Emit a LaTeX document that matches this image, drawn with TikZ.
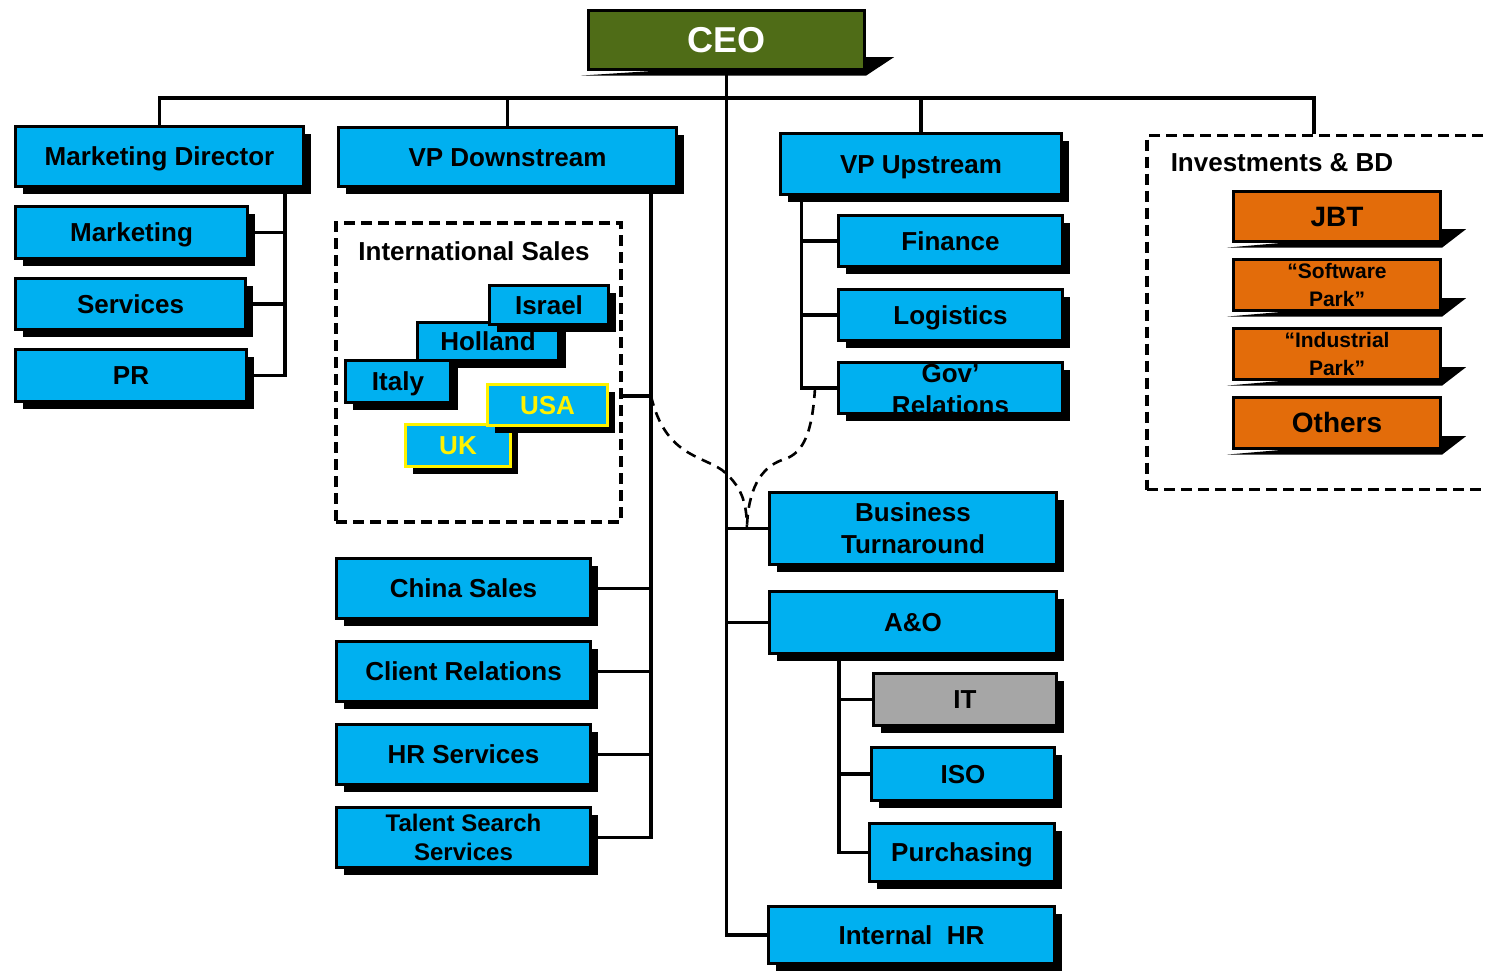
\documentclass[tikz,border=0pt]{standalone}
\usepackage{fontspec}
\setmainfont{Liberation Sans}
\usetikzlibrary{shadows}
\pgfdeclarelayer{back}
\pgfsetlayers{back,main}

\definecolor{unitblue}{RGB}{0,176,240}
\definecolor{ceogreen}{RGB}{79,108,23}
\definecolor{investorange}{RGB}{227,108,10}
\definecolor{itgrey}{RGB}{166,166,166}

\begin{document}
\begin{tikzpicture}
[x=1pt,y=-1pt,%
  box/.style={rectangle,draw=black,line width=3.2pt,inner sep=0pt,align=center,%
    font=\fontsize{26}{32}\selectfont\bfseries,text height=23.5pt,text depth=5.5pt},%
  twoline/.style={text height={},text depth={}},%
  unit/.style={box,fill=unitblue,%
    drop shadow={fill=black,opacity=1,shadow xshift=7.5pt,shadow yshift=-7.5pt}},%
  abroad/.style={unit,draw=yellow,text=yellow},%
  invest/.style={box,fill=investorange,font=\fontsize{28}{32}\selectfont\bfseries,%
    text height=25.3pt,text depth=5.9pt},%
  slant/.style={fill=black},%
  group/.style={draw,line width=3.5pt,dash pattern=on 11pt off 6pt,inner sep=0pt},%
  grouptitle/.style={font=\fontsize{26}{30}\selectfont\bfseries},%
  link/.style={draw,line width=3.6pt},%
  hint/.style={draw,line width=2.6pt,dash pattern=on 10pt off 7pt}]
\useasboundingbox (0,0) rectangle (1485,971);

\node[box,fill=ceogreen,text=white,font=\fontsize{36}{40}\selectfont\bfseries,
  text height=32.6pt,text depth=7.6pt,
  minimum width=276pt,minimum height=59pt] (ceo) at (726.5,40) {CEO};

\node[unit,minimum width=288pt,minimum height=60pt] (md) at (159.5,156.5) {Marketing Director};
\node[unit,minimum width=232pt,minimum height=52pt] (mkt) at (131.5,232.5) {Marketing};
\node[unit,minimum width=230pt,minimum height=51pt] (srv) at (130.5,304) {Services};
\node[unit,minimum width=231pt,minimum height=52pt] (pr) at (131,375.5) {PR};

\node[unit,minimum width=338pt,minimum height=59pt] (vpd) at (507.5,157) {VP Downstream};
\node[group,minimum width=285pt,minimum height=299pt] (intl) at (478.5,372.5) {};
\node[grouptitle] (intltitle) at (474,251) {International Sales};
\node[unit,minimum width=141pt,minimum height=38pt] (holland) at (488,341.5) {Holland};
\node[unit,minimum width=119pt,minimum height=39pt] (israel) at (549,305) {Israel};
\node[unit,minimum width=105pt,minimum height=42pt] (italy) at (398,381.5) {Italy};
\node[abroad,minimum width=105pt,minimum height=42pt] (uk) at (458,445.5) {UK};
\node[abroad,minimum width=120pt,minimum height=41pt] (usa) at (547.5,405) {USA};
\node[unit,minimum width=254pt,minimum height=60pt] (china) at (463.5,588.5) {China Sales};
\node[unit,minimum width=254pt,minimum height=60pt] (client) at (463.5,671.5) {Client Relations};
\node[unit,minimum width=254pt,minimum height=60pt] (hrs) at (463.5,754.5) {HR Services};
\node[unit,twoline,minimum width=254pt,minimum height=60pt,font=\fontsize{24}{29}\selectfont\bfseries]
  (talent) at (463.5,837.5) {Talent Search\\Services};

\node[unit,minimum width=281pt,minimum height=61pt] (vpu) at (921,164) {VP Upstream};
\node[unit,minimum width=224pt,minimum height=51pt] (fin) at (950.5,241) {Finance};
\node[unit,minimum width=224pt,minimum height=51pt] (log) at (950.5,315) {Logistics};
\node[unit,minimum width=224pt,minimum height=51pt] (gov) at (950.5,388) {};
\node[font=\fontsize{26}{32}\selectfont\bfseries,align=center,inner sep=0pt]
  (govtext) at ([yshift=-2pt]gov.center) {Gov’\\Relations};

\node[group,minimum width=348pt,minimum height=354pt] (inv) at (1321,312.5) {};
\node[grouptitle] (invtitle) at (1282,163) {Investments \& BD};
\node[invest,minimum width=207pt,minimum height=50pt] (jbt) at (1337,216.5) {JBT};
\node[invest,twoline,minimum width=207pt,minimum height=51pt,font=\fontsize{21}{28}\selectfont\bfseries]
  (sw) at (1337,285) {“Software\\Park”};
\node[invest,twoline,minimum width=207pt,minimum height=51pt,font=\fontsize{21}{28}\selectfont\bfseries]
  (ind) at (1337,354) {“Industrial\\Park”};
\node[invest,minimum width=207pt,minimum height=51pt] (oth) at (1337,423) {Others};

\node[unit,twoline,minimum width=287pt,minimum height=72pt] (bt) at (913,528.5) {Business\\Turnaround};
\node[unit,minimum width=287pt,minimum height=62pt] (ao) at (913,622.5) {A\&O};
\node[unit,fill=itgrey,minimum width=183pt,minimum height=52pt] (it) at (965,699.5) {IT};
\node[unit,minimum width=183pt,minimum height=53pt] (iso) at (963,774) {ISO};
\node[unit,minimum width=185pt,minimum height=58pt] (pur) at (962,852.5) {Purchasing};
\node[unit,minimum width=286pt,minimum height=57pt] (ihr) at (911.5,935) {Internal\ \ HR};

\begin{pgfonlayer}{back}
\fill[slant] ([xshift=-6pt,yshift=-4.5pt]ceo.south west) -- ([yshift=-4.5pt]ceo.south east)
  -- ([xshift=28pt,yshift=14pt]ceo.south east) -- ([yshift=14pt]ceo.south east) -- cycle;
\foreach \n in {jbt,sw,ind,oth}
  \fill[slant] ([xshift=-5pt,yshift=-4.5pt]\n.south west) -- ([yshift=-4.5pt]\n.south east)
    -- ([xshift=24pt,yshift=14pt]\n.south east) -- ([yshift=14pt]\n.south east) -- cycle;
\end{pgfonlayer}

\coordinate (bus) at (726.5,98);
\coordinate (invj) at ([xshift=-7pt]inv.north);
\coordinate (mdbus) at ([xshift=-20pt]md.south east);
\coordinate (vpdbus) at ([xshift=-27pt]vpd.south east);
\coordinate (isj) at (651,396);
\coordinate (vpubus) at ([xshift=22.5pt]vpu.south west);
\coordinate (govj) at (815,388);
\coordinate (btj) at ([xshift=-21pt]bt.west);
\coordinate (aobus) at ([xshift=71pt]ao.south west);

\draw[link] (md.north) |- (bus) -| (invj);
\draw[link] (vpd.north) -- (vpd.north |- bus);
\draw[link] (vpu.north) -- (vpu.north |- bus);
\draw[link] (ceo.south) |- (ihr.west);
\draw[link] (bt.west) -- (bt.west -| ceo.south);
\draw[link] (ao.west) -- (ao.west -| ceo.south);

\draw[link] (mdbus) |- (pr.east);
\draw[link] (mkt.east) -- (mkt.east -| mdbus);
\draw[link] (srv.east) -- (srv.east -| mdbus);

\draw[link] (vpdbus) |- (talent.east);
\draw[link] (isj) -- (isj -| intl.east);
\draw[link] (china.east) -- (china.east -| vpdbus);
\draw[link] (client.east) -- (client.east -| vpdbus);
\draw[link] (hrs.east) -- (hrs.east -| vpdbus);

\draw[link] (vpubus) |- (gov.west);
\draw[link] (fin.west) -- (fin.west -| vpubus);
\draw[link] (log.west) -- (log.west -| vpubus);

\draw[link] (aobus) |- (pur.west);
\draw[link] (it.west) -- (it.west -| aobus);
\draw[link] (iso.west) -- (iso.west -| aobus);

\draw[hint] (isj) .. controls (665,455) and (700,455) .. (722,470)
  .. controls (740,485) and (747,500) .. (btj);
\draw[hint] (govj) .. controls (812,440) and (800,455) .. (782,460)
  .. controls (760,468) and (748,490) .. (btj);
\end{tikzpicture}
\end{document}
